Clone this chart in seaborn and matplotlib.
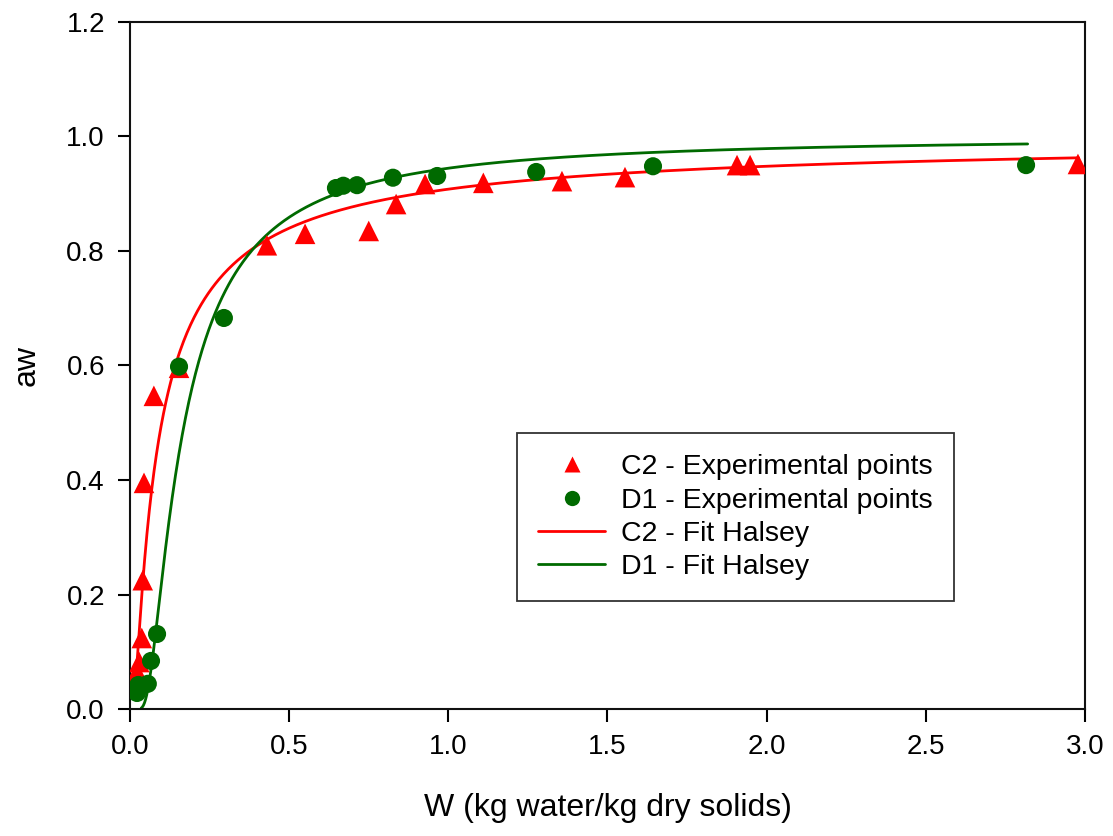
import numpy as np
import pandas as pd
import matplotlib
matplotlib.use("Agg")
import matplotlib.pyplot as plt
import seaborn as sns
from matplotlib.lines import Line2D

# Experimental points
c2_w = [0.022, 0.029, 0.037, 0.040, 0.044, 0.075, 0.154, 0.43, 0.55, 0.75, 0.836, 0.927,
        1.11, 1.357, 1.555, 1.907, 1.948, 2.978]
c2_aw = [0.065, 0.082, 0.124, 0.225, 0.395, 0.547, 0.596, 0.81, 0.83, 0.835, 0.882, 0.917,
         0.919, 0.922, 0.929, 0.950, 0.950, 0.952]
d1_w = [0.022, 0.026, 0.056, 0.066, 0.085, 0.154, 0.295, 0.647, 0.67, 0.713, 0.826, 0.965,
        1.276, 1.643, 2.815]
d1_aw = [0.028, 0.042, 0.044, 0.084, 0.131, 0.598, 0.683, 0.910, 0.914, 0.915, 0.928, 0.931,
         0.938, 0.948, 0.950]

# Halsey fit parameters  aw = exp(-A / W^n)
c2_A, c2_n, c2_range = 0.0965, 0.855, (0.02, 2.98)
d1_A, d1_n, d1_range = 0.057, 1.416, (0.035, 2.82)

RED = "#ff0000"
GREEN = "#006a00"

sns.set_theme(style="ticks")
plt.rcParams["font.family"] = ["Liberation Sans", "DejaVu Sans"]

fig = plt.figure(figsize=(11.13, 8.36), dpi=100)
ax = fig.add_axes([0.1168, 0.1519, 0.858, 0.8218])

def halsey(A, n, rng):
    w = np.linspace(rng[0], rng[1], 800)
    return pd.DataFrame({"W": w, "aw": np.exp(-A / w ** n)})

fc2 = halsey(c2_A, c2_n, c2_range)
fd1 = halsey(d1_A, d1_n, d1_range)
sns.lineplot(data=fc2, x="W", y="aw", color=RED, lw=2, ax=ax, zorder=2)
sns.lineplot(data=fd1, x="W", y="aw", color=GREEN, lw=2, ax=ax, zorder=2)

sns.scatterplot(x=c2_w, y=c2_aw, marker="^", s=220, color=RED, edgecolor="none", ax=ax, zorder=3)
sns.scatterplot(x=d1_w, y=d1_aw, marker="o", s=170, color=GREEN, edgecolor="none", ax=ax, zorder=3)

ax.set_xlim(0, 3.0)
ax.set_ylim(0, 1.2)
ax.set_xticks(np.arange(0, 3.01, 0.5))
ax.set_yticks(np.arange(0, 1.21, 0.2))
ax.set_xticklabels([f"{v:.1f}" for v in np.arange(0, 3.01, 0.5)])
ax.set_yticklabels([f"{v:.1f}" for v in np.arange(0, 1.21, 0.2)])
ax.tick_params(direction="out", length=9, width=1.5, labelsize=20, colors="black", pad=9)
for sp in ax.spines.values():
    sp.set_linewidth(1.5)
    sp.set_color("#111111")
    sp.set_visible(True)

ax.set_xlabel("W (kg water/kg dry solids)", fontsize=23, labelpad=24, color="black")
ax.set_ylabel("aw", fontsize=23, labelpad=18, color="black")

handles = [
    Line2D([], [], ls="none", marker="^", color=RED, markersize=11, markeredgecolor="none"),
    Line2D([], [], ls="none", marker="o", color=GREEN, markersize=11, markeredgecolor="none"),
    Line2D([], [], color=RED, lw=2),
    Line2D([], [], color=GREEN, lw=2),
]
labels = ["C2 - Experimental points", "D1 - Experimental points",
          "C2 - Fit Halsey", "D1 - Fit Halsey"]
leg = ax.legend(handles, labels, loc="lower left", bbox_to_anchor=(0.405, 0.157),
                fontsize=20.5, frameon=True, fancybox=False, edgecolor="black",
                handlelength=2.35, handletextpad=0.55, labelspacing=0.25,
                borderpad=0.75, borderaxespad=0)
leg.get_frame().set_linewidth(1.3)
for t in leg.get_texts():
    t.set_color("black")

fig.savefig("out.png", dpi=100)
